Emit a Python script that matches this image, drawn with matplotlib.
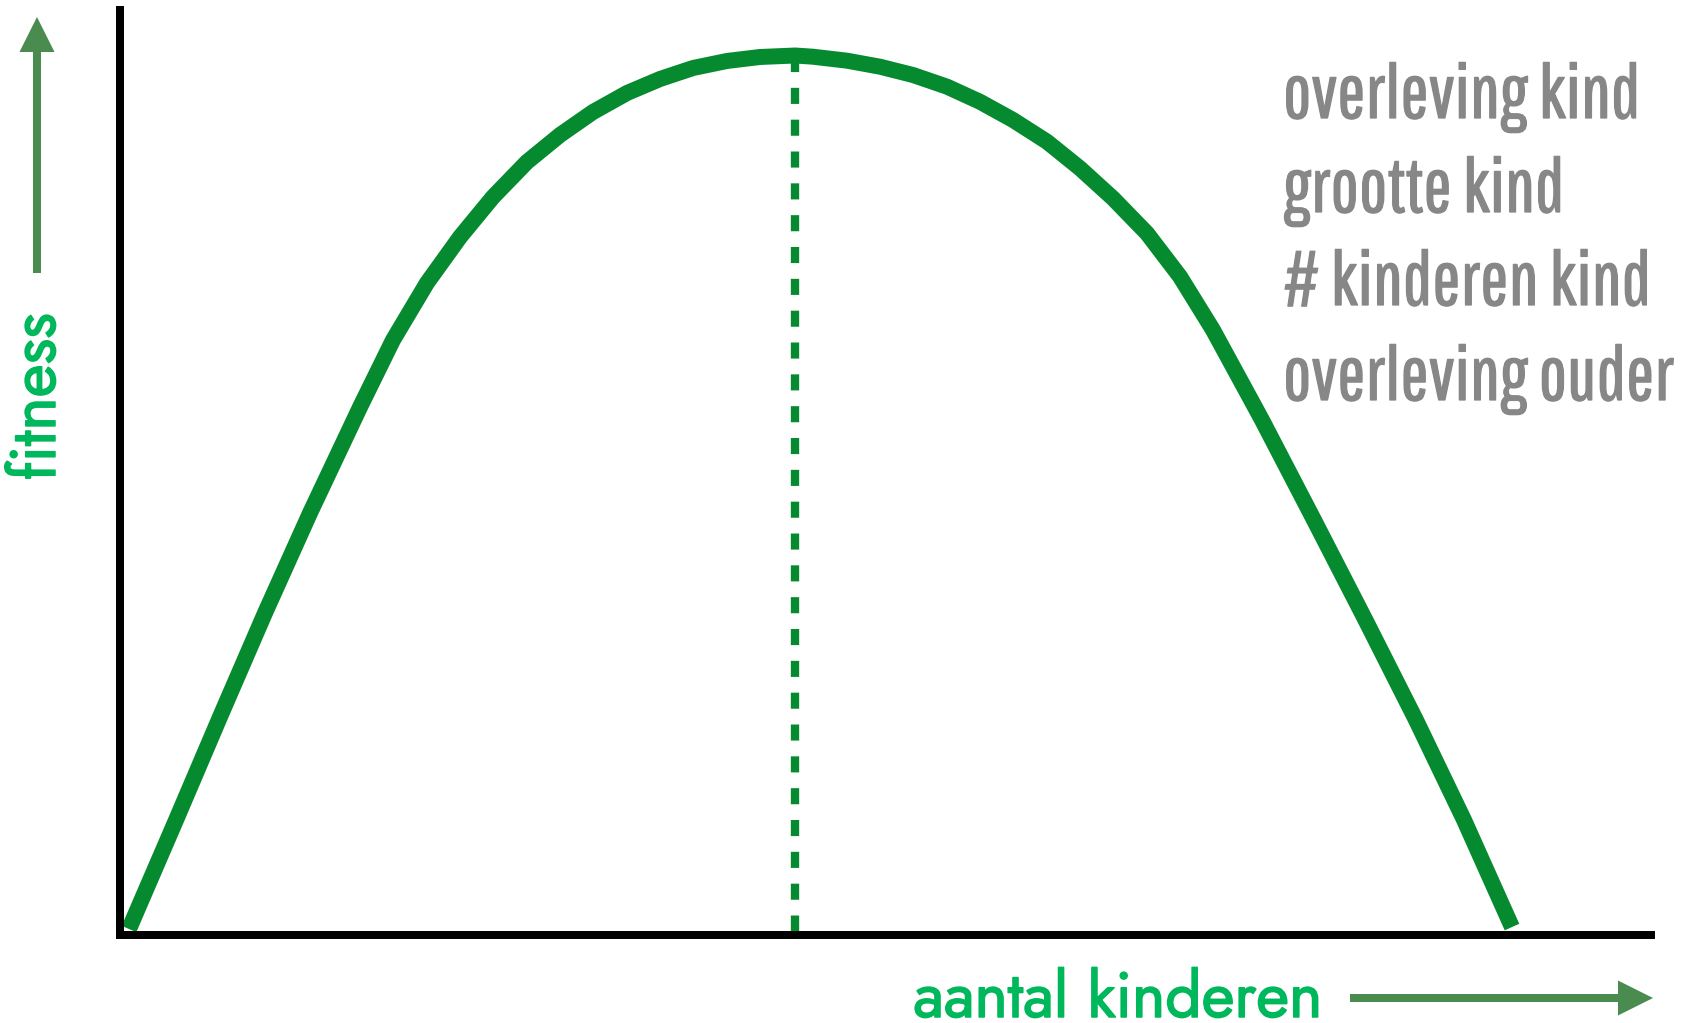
import matplotlib
matplotlib.use("Agg")
from matplotlib import pyplot as plt
from matplotlib import font_manager as fm
from matplotlib import patheffects as pe
from matplotlib.patches import FancyArrowPatch, ArrowStyle

# curve (x: aantal kinderen, y: fitness, arbitrary units)
kinderen = [0.059, 0.366, 0.653, 0.947, 1.241, 1.568, 1.783, 2.005, 2.221,
            2.436, 2.658, 2.874, 3.089, 3.312, 3.527, 3.743, 3.965, 4.180,
            4.411, 4.526, 4.749, 4.964, 5.180, 5.402, 5.617, 5.833, 6.055,
            6.270, 6.486, 6.708, 6.924, 7.139, 7.342, 7.459, 7.799, 8.135,
            8.465, 8.779, 9.092]
fitness = [0.65, 12.43, 23.57, 34.81, 45.62, 57.08, 64.32, 70.49, 75.46,
           79.78, 83.57, 86.49, 88.97, 91.03, 92.54, 93.73, 94.49, 94.92,
           95.08, 94.95, 94.52, 93.87, 92.97, 91.71, 90.08, 88.11, 85.76,
           82.89, 79.64, 75.86, 71.17, 65.41, 59.24, 55.68, 44.86, 34.05,
           23.24, 12.43, 0.86]

factoren = ["overleving kind", "grootte kind", "# kinderen kind",
            "overleving ouder"]

x_label = "aantal kinderen"
y_label = "fitness"

have = {f.name for f in fm.fontManager.ttflist}


def pick(prefs):
    for p in prefs:
        if p in have:
            return p
    return "DejaVu Sans"


smal = pick(["Pathway Gothic One", "Oswald", "Antonio", "Roboto Condensed"])
rond = pick(["Jost", "League Spartan", "Questrial", "Lato"])

W, H = 1693, 1023
fig = plt.figure(figsize=(W / 100, H / 100), dpi=100)
ax = fig.add_axes([120 / W, 88 / H, 1531 / W, 925 / H])
ax.set_xlim(0, 10)
ax.set_ylim(0, 100)
ax.patch.set_visible(False)
ax.set_xticks([])
ax.set_yticks([])
for side in ["top", "right"]:
    ax.spines[side].set_visible(False)
for side in ["left", "bottom"]:
    ax.spines[side].set_linewidth(5.76)
    ax.spines[side].set_color("black")
    ax.spines[side].set_capstyle("projecting")
    ax.spines[side].set_zorder(5)

groen = "#068a2f"
ax.plot(kinderen, fitness, color=groen, lw=11.5, solid_capstyle="butt",
        solid_joinstyle="round", clip_on=False, zorder=3)

# dashed line at the optimum
top = fitness.index(max(fitness))
ax.plot([kinderen[top], kinderen[top]], [fitness[top], 0], color=groen,
        lw=6, dashes=(1.93, 1.89), clip_on=False, zorder=2)

# arrows next to the axis labels
pijl = "#4a8b4f"
style = ArrowStyle.Simple(head_length=25.2, head_width=25.2, tail_width=5.76)
for a, b in [((1350 / W, 25 / H), (1653 / W, 25 / H)),
             ((37 / W, (H - 273) / H), (37 / W, (H - 17) / H))]:
    fig.add_artist(FancyArrowPatch(a, b, arrowstyle=style, mutation_scale=1,
                                   lw=0, color=pijl, shrinkA=0, shrinkB=0,
                                   transform=fig.transFigure))

licht = "#00b85c"
dik_groen = [pe.withStroke(linewidth=1.1, foreground=licht)]
xl = fig.text(1118 / W, (H - 1017) / H, x_label, ha="center", va="baseline",
              fontsize=43, fontweight="semibold", family=rond, color=licht,
              path_effects=dik_groen)
yl = fig.text(37 / W, (H - 397) / H, y_label, rotation=90, ha="center",
              va="center", fontsize=43, fontweight="semibold", family=rond,
              color=licht, path_effects=dik_groen)

grijs_kleur = "#878787"
dik_grijs = [pe.withStroke(linewidth=0.9, foreground=grijs_kleur)]
grijs = []
for i, t in enumerate(factoren):
    base = [118, 212, 305, 400][i]
    grijs.append(fig.text(1283 / W, (H - base) / H, t, ha="left",
                          va="baseline", fontsize=48, family=smal,
                          color=grijs_kleur, path_effects=dik_grijs))

# fit the sizes to the widths in the reference
r = fig.canvas.get_renderer()
w = grijs[0].get_window_extent(r).width
for t in grijs:
    t.set_fontsize(48 * 357 / w)
w = xl.get_window_extent(r).width
xl.set_fontsize(43 * 410 / w)
yl.set_fontsize(43 * 410 / w)

fig.savefig("out.png", dpi=100)
